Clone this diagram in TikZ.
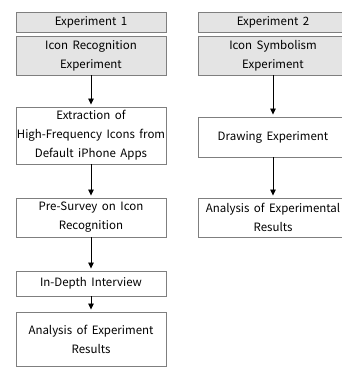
\documentclass[tikz,border=0pt]{standalone}
\usepackage{fontspec}
\setmainfont{Noto Sans CJK KR}
\usetikzlibrary{arrows.meta}
\definecolor{hdrfill}{HTML}{E4E4E4}
\definecolor{bordergray}{HTML}{7F7F7F}
\newcommand\myboxfont{\fontsize{11.5}{19}\selectfont\spaceskip=4.5pt plus 1pt\relax}
\tikzset{
  box/.style={draw=bordergray, line width=0.9pt, rectangle, minimum width=150pt, inner sep=0pt, align=center, font=\myboxfont},
  hdr/.style={box, fill=hdrfill},
  link/.style={line width=0.8pt, -{Triangle[width=5.5pt,length=6pt]}, shorten >=2pt}
}
\begin{document}
\begin{tikzpicture}[x=1pt,y=-1pt]
\clip (0,0) rectangle (342,368);
\fill[white] (0,0) rectangle (342,368);
% left column
\node[hdr, minimum height=20pt] (e1) at (91,22) {Experiment 1};
\node[hdr, minimum height=39pt] (ir) at (91,55.5) {Icon Recognition\\Experiment};
\node[box, minimum height=57pt] (ex) at (91,135.5) {Extraction of\\High-Frequency Icons from\\Default iPhone Apps};
\node[box, minimum height=39pt] (ps) at (91,217.5) {Pre-Survey on Icon\\Recognition};
\node[box, minimum height=25pt] (id) at (91,283.5) {In-Depth Interview};
\node[box, minimum height=54pt] (an) at (91,339) {Analysis of Experiment\\Results};
% right column
\node[hdr, minimum height=20pt] (e2) at (273,22) {Experiment 2};
\node[hdr, minimum height=39pt] (is) at (273,55.5) {Icon Symbolism\\Experiment};
\node[box, minimum height=40pt] (dr) at (273,137) {Drawing Experiment};
\node[box, minimum height=39pt] (an2) at (273,217.5) {Analysis of Experimental\\Results};
% arrows
\draw[link] (ir) -- (ex);
\draw[link] (ex) -- (ps);
\draw[link] (ps) -- (id);
\draw[link] (id) -- (an);
\draw[link] (is) -- (dr);
\draw[link] (dr) -- (an2);
\end{tikzpicture}
\end{document}
